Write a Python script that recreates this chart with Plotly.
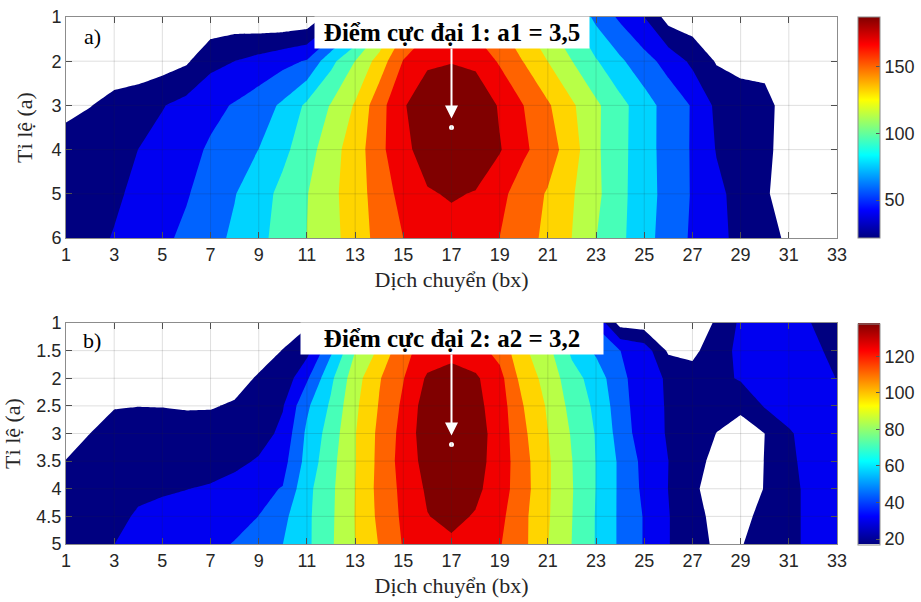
import plotly.graph_objects as go

# ---------------- data ----------------
x_bx = list(range(1, 34))                       # Dịch chuyển (bx)
y_a = [1, 2, 3, 4, 5, 6]                        # Tỉ lệ (a), panel a
y_b = [1, 1.5, 2, 2.5, 3, 3.5, 4, 4.5, 5]       # Tỉ lệ (a), panel b

z_a_r1 = [12, 13, 14, 14, 13, 11, 8, 10, 7, 5, 7, 30, 60, 100, 140, 160, 165, 160, 148, 130, 112, 95, 72, 55, 40, 14, 10, 8, 7, 6, 5, 5, 4]
z_a_r2 = [10, 12, 13, 10, 13, 19, 35, 40, 46, 53, 60, 90, 114, 140, 170, 183, 186, 182, 167, 150, 132, 114, 97, 80, 65, 52, 36, 20, 16, 19, 14, 10, 8]
z_a_r3 = [18, 21, 26, 32, 39, 46, 53, 60, 68, 80, 99, 115, 134, 162, 185, 205, 212, 206, 185, 169, 153, 135, 117, 101, 85, 69, 57, 36, 30, 24, 18, 14, 10]
z_a_r4 = [27, 32, 36, 40, 46, 52, 61, 69, 77, 91, 105, 126, 140, 165, 180, 200, 212, 205, 189, 172, 160, 140, 117, 100, 86, 68, 57, 39, 32, 24, 17, 13, 10]
z_a_r5 = [28, 32, 37, 44, 50, 57, 66, 76, 88, 100, 113, 127, 143, 158, 176, 185, 190, 186, 174, 160, 149, 134, 118, 100, 85, 70, 57, 44, 34, 23, 16, 13, 11]
z_a_r6 = [30, 35, 41, 47, 55, 62, 71, 80, 90, 103, 114, 127, 140, 157, 169, 175, 178, 175, 169, 158, 146, 132, 114, 99, 84, 68, 56, 45, 35, 27, 19, 15, 12]
z_a = [z_a_r1, z_a_r2, z_a_r3, z_a_r4, z_a_r5, z_a_r6]

z_b_r1 = [6, 6, 7, 7, 8, 8, 8, 9, 10, 12, 15, 35, 62, 78, 96, 108, 112, 108, 98, 84, 70, 56, 42, 12, 10, 10, 12, 18, 33, 38, 36, 30, 22]
z_b_r15 = [7, 8, 9, 10, 10, 10, 10, 11, 13, 17.3, 26, 55, 84, 100, 121, 130, 134, 130, 120, 100, 88, 68, 55, 44, 38, 15, 14, 24, 34, 37, 36, 33, 27]
z_b_r2 = [8, 10, 12, 13, 13, 13, 13, 13.5, 18, 21, 42, 68, 92, 110, 124, 140, 143, 140, 129, 105, 93, 76, 65, 47, 37, 28.5, 22, 26, 32, 38, 40, 38, 30]
z_b_r25 = [10, 14, 16.7, 16.9, 16.8, 16.3, 16.35, 18, 22, 29.5, 55, 73, 95, 112, 127, 145, 147, 142, 131, 111, 96, 80, 68, 50, 35, 29.5, 25, 22, 19, 31.5, 36, 40, 41]
z_b_r3 = [12.3, 17, 19, 20, 20, 20.5, 21, 22, 24, 34, 60, 77, 97, 114, 129, 146, 148, 144, 132, 113.5, 98, 83, 70, 52, 36, 29.5, 24, 16.8, 13, 17, 29, 36, 39]
z_b_r35 = [17.3, 20, 22, 23, 23.5, 24, 24, 26.7, 32, 39, 62, 80, 97, 114.5, 130, 143, 147, 143, 132, 115.5, 99.5, 84.5, 70.5, 55, 40, 30.5, 21, 14, 12, 17.2, 28, 35, 38]
z_b_r4 = [20, 23, 26, 27.6, 29, 30.2, 32, 36, 41, 44.5, 67, 81.5, 97.7, 115, 128, 140, 145, 141, 131, 116, 99.5, 85, 70.5, 55, 41, 30.3, 20, 10, 10, 17.5, 27, 34, 38]
z_b_r45 = [22, 25, 27, 32, 34, 36, 38, 40, 44, 54, 68, 82, 98, 114, 127, 137.6, 141, 137, 128, 114, 99, 84.5, 70, 55, 43, 31, 22, 13, 13, 21, 27, 34, 38]
z_b_r5 = [24, 27, 30.4, 33, 35, 37.5, 41, 44.5, 50, 57.3, 68, 82.5, 97.5, 111.8, 125.5, 132, 136, 132, 125.5, 114, 98, 84, 70, 55, 43, 31, 22, 15, 16, 24, 27, 34, 38]
z_b = [z_b_r1, z_b_r15, z_b_r2, z_b_r25, z_b_r3, z_b_r35, z_b_r4, z_b_r45, z_b_r5]

levels_a = [21.5, 187.5]      # lowest / highest contour level = colourbar range
levels_b = [17.0, 138.0]
n_levels = 10

x_ticks = list(range(1, 34, 2))
ya_ticks = [1, 2, 3, 4, 5, 6]
yb_ticks = [1, 1.5, 2, 2.5, 3, 3.5, 4, 4.5, 5]
yb_ticktext = ["1", "1.5", "2", "2.5", "3", "3.5", "4", "4.5", "5"]
cb_a_ticks = [50, 100, 150]
cb_b_ticks = [20, 40, 60, 80, 100, 120]

peak_a = [17, 3.5]
peak_b = [17, 3.2]
label_a = "Điểm cực đại 1: a1 = 3,5"
label_b = "Điểm cực đại 2: a2 = 3,2"
x_title = "Dịch chuyển (bx)"
y_title = "Tỉ lệ (a)"


# ---------------- styling helpers ----------------
def jet(t):
    r = min(max(1.5 - abs(4 * t - 3), 0), 1)
    g = min(max(1.5 - abs(4 * t - 2), 0), 1)
    b = min(max(1.5 - abs(4 * t - 1), 0), 1)
    return "rgb(%d,%d,%d)" % (round(r * 255), round(g * 255), round(b * 255))


def band_scale(n):
    w = 1.0 / n
    stops = [[0, "white"], [0.5 * w, "white"]]
    for k in range(n):
        c = jet(k / (n - 1))
        stops.append([(k + 0.5) * w, c])
        stops.append([min((k + 1.5) * w, 1.0), c])
    return stops


jet_cont = [[s, jet(s)] for s in (0, 0.125, 0.375, 0.625, 0.875, 1.0)]

W, H = 921, 602
XD = [66 / W, 837 / W]
YD_A = [1 - 238 / H, 1 - 17 / H]
YD_B = [1 - 544 / H, 1 - 323 / H]

SANS = "Liberation Sans, Arial, sans-serif"
SERIF = "Liberation Serif, Times New Roman, serif"
TXT = "#262626"
AX = "#8c8c8c"

fig = go.Figure()


def add_panel(z, yv, lev, xa, ya, cb_ticks, cb_y):
    step = (lev[1] - lev[0]) / (n_levels - 1)
    fig.add_trace(go.Contour(
        x=x_bx, y=yv, z=z, xaxis=xa, yaxis=ya,
        autocontour=False,
        contours=dict(start=lev[0], end=lev[1], size=step, coloring="fill", showlines=False),
        colorscale=band_scale(n_levels), showscale=False,
        line=dict(width=0, smoothing=0), hoverinfo="skip"))
    fig.add_trace(go.Scatter(
        x=[None], y=[None], mode="markers", xaxis=xa, yaxis=ya, showlegend=False, hoverinfo="skip",
        marker=dict(color=[lev[0]], cmin=lev[0], cmax=lev[1], colorscale=jet_cont, showscale=True,
                    colorbar=dict(x=858 / W, xanchor="left", y=cb_y, yanchor="middle",
                                  len=221, lenmode="pixels", thickness=22, thicknessmode="pixels",
                                  xpad=0, ypad=0, tickvals=cb_ticks, ticks="inside", ticklen=4,
                                  tickcolor="#555", outlinecolor=AX, outlinewidth=1,
                                  tickfont=dict(family=SANS, size=18, color=TXT)))))


add_panel(z_a, y_a, levels_a, "x", "y", cb_a_ticks, 1 - 127.5 / H)
add_panel(z_b, y_b, levels_b, "x2", "y2", cb_b_ticks, 1 - 434 / H)

# peak dots
fig.add_trace(go.Scatter(x=[peak_a[0]], y=[peak_a[1]], mode="markers", xaxis="x", yaxis="y",
                         marker=dict(color="white", size=5), showlegend=False, hoverinfo="skip"))
fig.add_trace(go.Scatter(x=[peak_b[0]], y=[peak_b[1]], mode="markers", xaxis="x2", yaxis="y2",
                         marker=dict(color="white", size=5), showlegend=False, hoverinfo="skip"))

axis_common = dict(showline=True, linecolor=AX, linewidth=1, mirror="ticks", ticks="inside",
                   ticklen=6, tickcolor="#555", showgrid=False, zeroline=False, automargin=False,
                   tickfont=dict(family=SANS, size=18, color=TXT))
title_font = dict(family=SERIF, size=22, color=TXT)

fig.update_layout(
    width=W, height=H, margin=dict(l=0, r=0, t=0, b=0),
    paper_bgcolor="white", plot_bgcolor="white", showlegend=False,
    xaxis=dict(domain=XD, anchor="y", range=[1, 33], tickvals=x_ticks,
               title=dict(text=x_title, font=title_font, standoff=8), **axis_common),
    yaxis=dict(domain=YD_A, anchor="x", range=[6, 1], tickvals=ya_ticks,
               title=dict(text=y_title, font=title_font, standoff=12), **axis_common),
    xaxis2=dict(domain=XD, anchor="y2", range=[1, 33], tickvals=x_ticks,
                title=dict(text=x_title, font=title_font, standoff=8), **axis_common),
    yaxis2=dict(domain=YD_B, anchor="x2", range=[5, 1], tickvals=yb_ticks, ticktext=yb_ticktext,
                title=dict(text=y_title, font=title_font, standoff=10), **axis_common),
)

# grid lines drawn above the filled contours (MATLAB style)
shapes = []
for xa, ya, yt in (("x", "y", ya_ticks), ("x2", "y2", yb_ticks)):
    for xv in x_ticks[1:-1]:
        shapes.append(dict(type="line", xref=xa, yref=ya + " domain", x0=xv, x1=xv, y0=0, y1=1,
                           line=dict(color="rgba(40,40,40,0.15)", width=1), layer="above"))
    for yv in yt[1:-1]:
        shapes.append(dict(type="line", xref=xa + " domain", yref=ya, x0=0, x1=1, y0=yv, y1=yv,
                           line=dict(color="rgba(40,40,40,0.15)", width=1), layer="above"))
fig.update_layout(shapes=shapes)

ann = []
for xa, ya, pk, lab, ay, bw, tag, tagy in (("x", "y", peak_a, label_a, 1.35, 272, "a)", 0.914),
                                            ("x2", "y2", peak_b, label_b, 1.28, 300, "b)", 0.919)):
    ann.append(dict(x=pk[0], y=pk[1], xref=xa, yref=ya, ax=pk[0], ay=ay, axref=xa, ayref=ya,
                    text="<b>%s</b>" % lab, showarrow=True, arrowhead=2, arrowsize=1.3,
                    arrowwidth=2, arrowcolor="white", standoff=9, bgcolor="white",
                    width=bw, height=29, borderpad=1,
                    font=dict(family=SERIF, size=25, color="black")))
    ann.append(dict(x=0.034, y=tagy, xref=xa + " domain", yref=ya + " domain", text=tag,
                    xanchor="center", yanchor="middle", showarrow=False,
                    font=dict(family=SERIF, size=22, color="black")))
fig.update_layout(annotations=ann)

fig.write_html("out.html")
